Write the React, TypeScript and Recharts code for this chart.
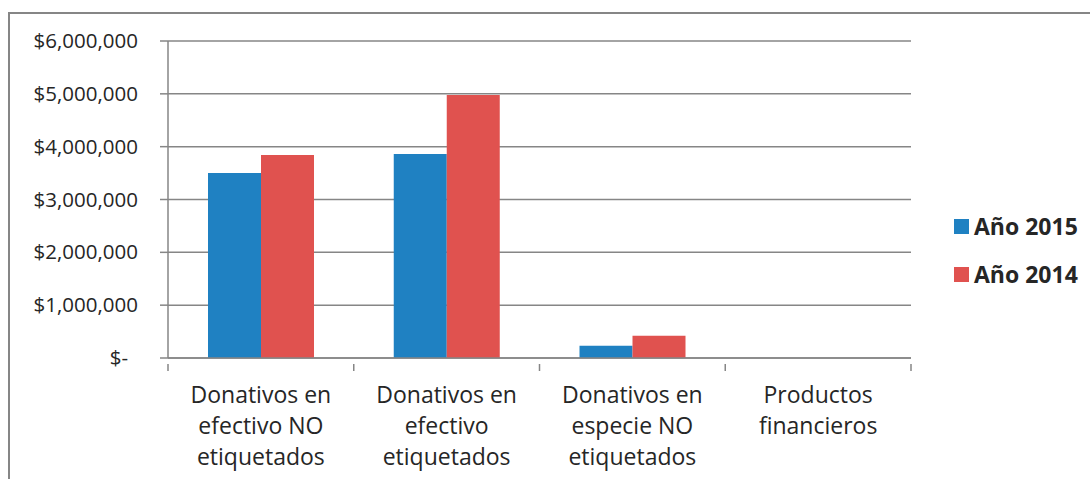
import { BarChart, Bar, XAxis, YAxis, CartesianGrid } from 'recharts';

const categories = [
  'Donativos en|efectivo NO|etiquetados',
  'Donativos en|efectivo|etiquetados',
  'Donativos en|especie NO|etiquetados',
  'Productos|financieros',
];
const year2015 = [3500000, 3860000, 230000, 0];
const year2014 = [3840000, 4980000, 420000, 0];
const yTicks = [0, 1000000, 2000000, 3000000, 4000000, 5000000, 6000000];
const seriesNames = ['Año 2015', 'Año 2014'];
const seriesColors = ['#1F81C2', '#E0524F'];

const data = categories.map((name, i) => ({ name, y2015: year2015[i], y2014: year2014[i] }));

const AXIS = '#868686';
const TEXT = '#262626';
const FONT = '"Open Sans", sans-serif';
const BAND = 743 / 4;

const fmt = (v: number) => (v === 0 ? '$-' : '$' + v.toLocaleString('en-US'));

function YTick(props: any) {
  const { x, y, payload } = props;
  const v = payload.value;
  return (
    <text x={v === 0 ? x - 10 : x} y={y} dy={7} textAnchor="end" fill={TEXT} fontSize={20.5} fontFamily={FONT}>
      {fmt(v)}
    </text>
  );
}

function XTick(props: any) {
  const { x, y, payload, index } = props;
  const lines = String(payload.value).split('|');
  return (
    <g>
      <line x1={x - BAND / 2} x2={x - BAND / 2} y1={y} y2={y + 7} stroke={AXIS} strokeWidth={1.5} />
      {index === categories.length - 1 && (
        <line x1={x + BAND / 2} x2={x + BAND / 2} y1={y} y2={y + 7} stroke={AXIS} strokeWidth={1.5} />
      )}
      {lines.map((l, i) => (
        <text key={i} x={x} y={y + 39 + i * 31} textAnchor="middle" fill={TEXT} fontSize={23} fontFamily={FONT}>
          {l}
        </text>
      ))}
    </g>
  );
}

export default function App() {
  return (
    <div style={{ position: 'absolute', left: 0, top: 0, width: 1090, height: 479, overflow: 'hidden', background: '#fff' }}>
      <div
        style={{
          position: 'absolute', left: 8, top: 12, width: 1200, height: 600,
          borderTop: `2px solid ${AXIS}`, borderLeft: `2px solid ${AXIS}`,
        }}
      />
      <div style={{ position: 'absolute', left: 0, top: 0 }}>
        <BarChart
          width={1090}
          height={479}
          data={data}
          margin={{ top: 41, right: 179, bottom: 0, left: 0 }}
          barCategoryGap={40}
          barGap={0}
        >
          <CartesianGrid vertical={false} stroke={AXIS} strokeWidth={1.5} />
          <XAxis
            dataKey="name"
            height={121}
            axisLine={{ stroke: AXIS, strokeWidth: 1.5 }}
            tickLine={false}
            tick={<XTick />}
            interval={0}
            tickMargin={0}
          />
          <YAxis
            width={168}
            domain={[0, 6000000]}
            ticks={yTicks}
            interval={0}
            axisLine={{ stroke: AXIS, strokeWidth: 1.5 }}
            tickLine={{ stroke: AXIS, strokeWidth: 1.5 }}
            tickSize={8}
            tickMargin={22}
            tick={<YTick />}
          />
          <Bar dataKey="y2015" name={seriesNames[0]} fill={seriesColors[0]} isAnimationActive={false} />
          <Bar dataKey="y2014" name={seriesNames[1]} fill={seriesColors[1]} isAnimationActive={false} />
        </BarChart>
      </div>
      <div style={{ position: 'absolute', left: 954, top: 202, fontFamily: FONT }}>
        {seriesNames.map((n, i) => (
          <div key={n} style={{ display: 'flex', alignItems: 'center', height: 48 }}>
            <span style={{ width: 15, height: 15, background: seriesColors[i], marginRight: 5 }} />
            <span style={{ fontWeight: 700, fontSize: 23, color: TEXT }}>{n}</span>
          </div>
        ))}
      </div>
    </div>
  );
}
